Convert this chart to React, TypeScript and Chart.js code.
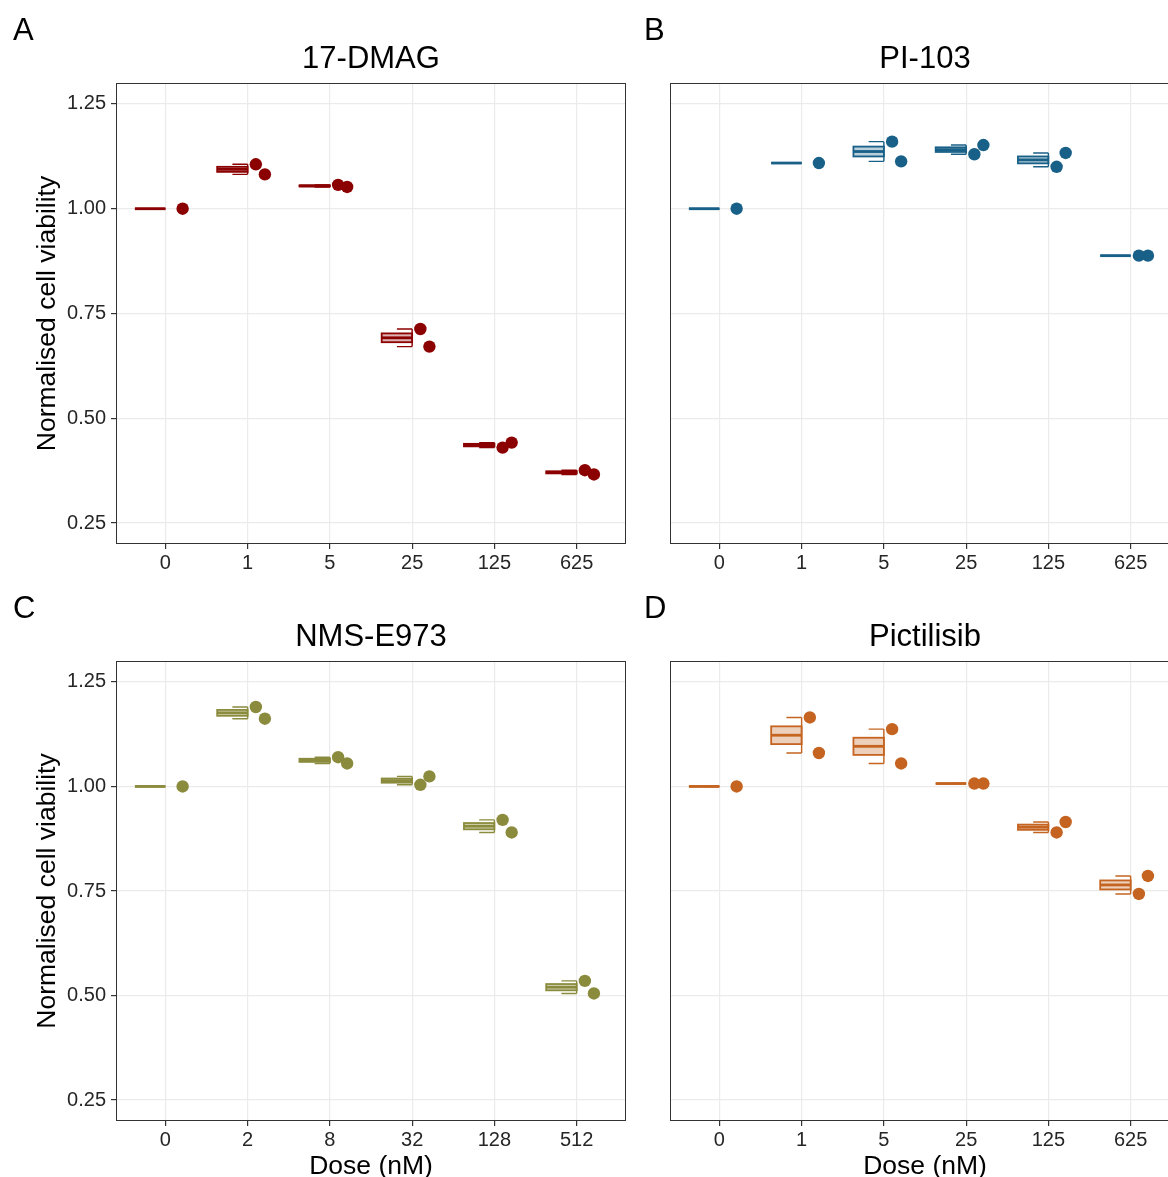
import React, { useEffect, useRef } from 'react';
import { Chart, registerables } from 'chart.js';

Chart.register(...registerables);

// ---------- data ----------
const dosesMain = ['0', '1', '5', '25', '125', '625'];
const dosesNMS = ['0', '2', '8', '32', '128', '512'];
const yTickValues = [0.25, 0.5, 0.75, 1.0, 1.25];

// replicate 1 (plotted closer to the box) and replicate 2 (further right)
const dmagRep1 = [null, 1.106, 1.057, 0.713, 0.430, 0.376];
const dmagRep2 = [1.000, 1.082, 1.052, 0.671, 0.442, 0.366];

const pi103Rep1 = [null, null, 1.160, 1.130, 1.100, 0.888];
const pi103Rep2 = [1.000, 1.109, 1.113, 1.152, 1.133, 0.888];

const nmsRep1 = [null, 1.190, 1.070, 1.004, 0.920, 0.535];
const nmsRep2 = [1.000, 1.162, 1.055, 1.024, 0.890, 0.505];

const pictRep1 = [null, 1.165, 1.137, 1.007, 0.890, 0.743];
const pictRep2 = [1.000, 1.080, 1.055, 1.007, 0.915, 0.786];

// ---------- styling ----------
const FONT = '"Liberation Sans", Arial, Helvetica, sans-serif';
const JIT1 = 0.1;
const JIT2 = 0.21;
const BOX_LEFT = -0.37;
const CAP_LEFT = -0.185;

type PanelCfg = {
  letter: string;
  title: string;
  doses: string[];
  rep1: (number | null)[];
  rep2: (number | null)[];
  color: string;
  fill: string;
  left: number;
  top: number;
  showY: boolean;
  bottomRow: boolean;
};

const panels: PanelCfg[] = [
  { letter: 'A', title: '17-DMAG', doses: dosesMain, rep1: dmagRep1, rep2: dmagRep2, color: '#8B0000', fill: 'rgba(139,0,0,0.3)', left: 0, top: 0, showY: true, bottomRow: false },
  { letter: 'B', title: 'PI-103', doses: dosesMain, rep1: pi103Rep1, rep2: pi103Rep2, color: '#186087', fill: 'rgba(24,96,135,0.3)', left: 554, top: 0, showY: false, bottomRow: false },
  { letter: 'C', title: 'NMS-E973', doses: dosesNMS, rep1: nmsRep1, rep2: nmsRep2, color: '#8B8B3E', fill: 'rgba(139,139,62,0.3)', left: 0, top: 578, showY: true, bottomRow: true },
  { letter: 'D', title: 'Pictilisib', doses: dosesMain, rep1: pictRep1, rep2: pictRep2, color: '#C46420', fill: 'rgba(196,100,32,0.3)', left: 554, top: 578, showY: false, bottomRow: true },
];

const CW = 640;

function quantile(sorted: number[], p: number) {
  const h = (sorted.length - 1) * p;
  const lo = Math.floor(h);
  const hi = Math.ceil(h);
  return sorted[lo] + (sorted[hi] - sorted[lo]) * (h - lo);
}

function Panel({ cfg }: { cfg: PanelCfg }) {
  const ref = useRef<HTMLCanvasElement | null>(null);
  const height = cfg.bottomRow ? 620 : 577;
  const xAxisHeight = cfg.bottomRow ? 620 - 543 : 577 - 544;

  useEffect(() => {
    if (!ref.current) return;
    const boxPlugin = {
      id: 'halfBox',
      beforeDatasetsDraw(chart: any) {
        const ctx = chart.ctx;
        const xs = chart.scales.x;
        const ys = chart.scales.y;
        ctx.save();
        cfg.doses.forEach((_, i) => {
          const vals = [cfg.rep1[i], cfg.rep2[i]].filter((v) => v != null) as number[];
          if (!vals.length) return;
          vals.sort((a, b) => a - b);
          const lo = vals[0];
          const hi = vals[vals.length - 1];
          const q1 = quantile(vals, 0.25);
          const med = quantile(vals, 0.5);
          const q3 = quantile(vals, 0.75);
          const xL = xs.getPixelForValue(i + BOX_LEFT);
          const xR = xs.getPixelForValue(i);
          const xC = xs.getPixelForValue(i + CAP_LEFT);
          const yQ1 = ys.getPixelForValue(q1);
          const yQ3 = ys.getPixelForValue(q3);
          const yMed = ys.getPixelForValue(med);
          const yLo = ys.getPixelForValue(lo);
          const yHi = ys.getPixelForValue(hi);
          // whisker (errorbar at box edge)
          ctx.strokeStyle = cfg.color;
          ctx.lineWidth = 1.4;
          ctx.beginPath();
          ctx.moveTo(xR, yHi);
          ctx.lineTo(xR, yLo);
          ctx.moveTo(xC, yHi);
          ctx.lineTo(xR, yHi);
          ctx.moveTo(xC, yLo);
          ctx.lineTo(xR, yLo);
          ctx.stroke();
          // box
          ctx.fillStyle = cfg.fill;
          ctx.fillRect(xL, yQ3, xR - xL, yQ1 - yQ3);
          ctx.lineWidth = 1.8;
          ctx.strokeRect(xL, yQ3, xR - xL, yQ1 - yQ3);
          // median
          ctx.lineWidth = 2.8;
          ctx.beginPath();
          ctx.moveTo(xL, yMed);
          ctx.lineTo(xR, yMed);
          ctx.stroke();
        });
        ctx.restore();
      },
    };
    const framePlugin = {
      id: 'frame',
      afterDatasetsDraw(chart: any) {
        const { left, top, right, bottom } = chart.chartArea;
        const ctx = chart.ctx;
        ctx.save();
        ctx.strokeStyle = '#333333';
        ctx.lineWidth = 1;
        ctx.strokeRect(Math.round(left) + 0.5, Math.round(top) + 0.5, Math.round(right - left) - 1, Math.round(bottom - top) - 1);
        ctx.restore();
      },
    };

    const pts1 = cfg.rep1
      .map((v, i) => (v == null ? null : { x: i + JIT1, y: v }))
      .filter((p) => p != null);
    const pts2 = cfg.rep2
      .map((v, i) => (v == null ? null : { x: i + JIT2, y: v }))
      .filter((p) => p != null);

    const chart = new Chart(ref.current, {
      type: 'scatter',
      data: {
        datasets: [
          { data: pts1 as any, backgroundColor: cfg.color, borderWidth: 0, pointRadius: 6.2, pointHoverRadius: 6.2 },
          { data: pts2 as any, backgroundColor: cfg.color, borderWidth: 0, pointRadius: 6.2, pointHoverRadius: 6.2 },
        ],
      },
      options: {
        responsive: false,
        animation: false,
        devicePixelRatio: 1,
        events: [],
        layout: { padding: { left: 0, right: 14, top: 0, bottom: 0 } },
        plugins: {
          legend: { display: false },
          tooltip: { enabled: false },
          title: {
            display: true,
            fullSize: false,
            text: cfg.title,
            color: '#000000',
            font: { family: FONT, size: 31, weight: 'normal' },
            padding: { top: 41, bottom: 4.8 },
          },
        },
        scales: {
          x: {
            type: 'linear',
            min: -0.6,
            max: 5.6,
            afterBuildTicks: (s: any) => {
              s.ticks = cfg.doses.map((_, i) => ({ value: i }));
            },
            afterFit: (s: any) => {
              s.height = xAxisHeight;
            },
            ticks: {
              autoSkip: false,
              maxRotation: 0,
              minRotation: 0,
              padding: 2,
              color: '#262626',
              font: { family: FONT, size: 20 },
              callback: (v: any) => cfg.doses[Math.round(Number(v))],
            },
            grid: { color: '#EBEBEB', lineWidth: 1.2, tickLength: 5, tickColor: '#333333', drawTicks: true },
            border: { display: false },
            title: {
              display: cfg.bottomRow,
              text: 'Dose (nM)',
              color: '#000000',
              font: { family: FONT, size: 26.5 },
              padding: { top: 0, bottom: 15 },
            },
          },
          y: {
            type: 'linear',
            min: 0.2,
            max: 1.3,
            afterBuildTicks: (s: any) => {
              s.ticks = yTickValues.map((v) => ({ value: v }));
            },
            afterFit: (s: any) => {
              s.width = 116;
            },
            ticks: {
              display: cfg.showY,
              padding: 5,
              color: '#262626',
              font: { family: FONT, size: 20 },
              callback: (v: any) => Number(v).toFixed(2),
            },
            grid: { color: '#EBEBEB', lineWidth: 1.2, tickLength: 5, tickColor: '#333333', drawTicks: cfg.showY },
            border: { display: false },
            title: {
              display: cfg.showY,
              text: 'Normalised cell viability',
              color: '#000000',
              font: { family: FONT, size: 26.5 },
              padding: { top: 32, bottom: 0 },
            },
          },
        },
      },
      plugins: [boxPlugin, framePlugin],
    } as any);
    return () => chart.destroy();
  }, []);

  return (
    <>
      <canvas
        ref={ref}
        width={CW}
        height={height}
        style={{ position: 'absolute', left: cfg.left, top: cfg.top, width: CW, height }}
      />
      <div
        style={{
          position: 'absolute',
          left: cfg.left === 0 ? 13 : 644,
          top: cfg.bottomRow ? 592 : 14,
          fontFamily: FONT,
          fontSize: 31,
          lineHeight: '31px',
          color: '#000',
        }}
      >
        {cfg.letter}
      </div>
    </>
  );
}

export default function App() {
  return (
    <div
      style={{
        position: 'fixed',
        left: 0,
        top: 0,
        width: 1168,
        height: 1177,
        overflow: 'hidden',
        background: '#ffffff',
      }}
    >
      {panels.map((p) => (
        <Panel key={p.letter} cfg={p} />
      ))}
    </div>
  );
}
